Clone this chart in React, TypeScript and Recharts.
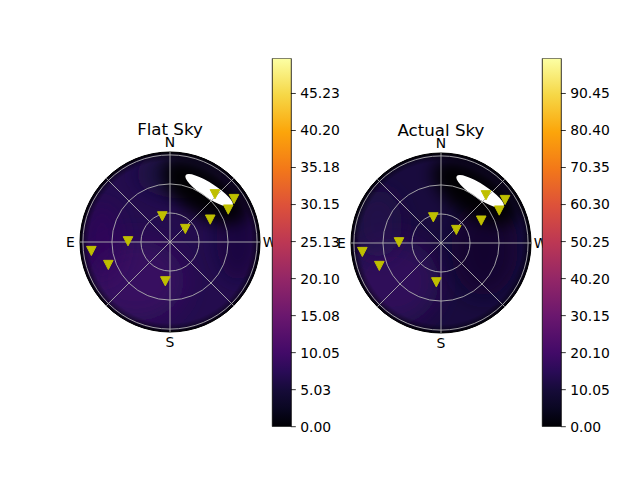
import React from 'react';
import {
  ScatterChart,
  Scatter,
  XAxis,
  YAxis,
  ReferenceArea,
  ReferenceLine,
  ReferenceDot,
  BarChart,
  Bar,
} from 'recharts';

// ---------- data ----------
const starAzimuths = [316.7, 303.9, 299.1, 299.1, 16.7, 310.4, 89.0, 96.5, 110.4, 173.2];
const starZeniths = [67.8, 79.7, 68.9, 47.6, 27.7, 20.8, 43.4, 81.8, 68.0, 40.9];

const ringZeniths = [30, 60, 90];
const spokeAngles = [0, 45, 90, 135];
const compassNames = ['N', 'E', 'S', 'W'];
const compassAzimuths = [0, 90, 180, 270];
const R_MAX = 93;

const flatTicks = [0, 5.025, 10.05, 15.075, 20.1, 25.125, 30.15, 35.175, 40.2, 45.225];
const flatTickLabels = ['0.00', '5.03', '10.05', '15.08', '20.10', '25.13', '30.15', '35.18', '40.20', '45.23'];
const flatMax = 50;

const actualTicks = [0, 10.05, 20.1, 30.15, 40.2, 50.25, 60.3, 70.35, 80.4, 90.45];
const actualTickLabels = ['0.00', '10.05', '20.10', '30.15', '40.20', '50.25', '60.30', '70.35', '80.40', '90.45'];
const actualMax = 100;

// ---------- styling of the sky brightness background ----------
type Blob = { x: number; y: number; rx: number; ry: number; rot: number; color: string; op: number; blur: number };

const flatBase = '#240c4e';
const flatBlobs: Blob[] = [
  { x: -35, y: -40, rx: 50, ry: 42, rot: 0, color: '#3c0964', op: 0.8, blur: 12 },
  { x: -70, y: 0, rx: 20, ry: 40, rot: 0, color: '#330a5e', op: 0.6, blur: 10 },
  { x: 10, y: 70, rx: 45, ry: 25, rot: 0, color: '#160b39', op: 0.6, blur: 10 },
  { x: 70, y: 5, rx: 22, ry: 45, rot: 0, color: '#140a35', op: 0.6, blur: 10 },
  { x: 35, y: 52, rx: 50, ry: 24, rot: 33, color: '#000004', op: 0.95, blur: 8 },
];
const flatWhite: Blob = { x: 40.5, y: 53.2, rx: 29, ry: 7.5, rot: 33, color: '#ffffff', op: 1, blur: 0 };

const actualBase = '#190b3e';
const actualBlobs: Blob[] = [
  { x: -50, y: -40, rx: 48, ry: 45, rot: 0, color: '#330a5e', op: 0.85, blur: 12 },
  { x: -65, y: 20, rx: 25, ry: 35, rot: 0, color: '#240c4f', op: 0.6, blur: 10 },
  { x: 45, y: -5, rx: 35, ry: 50, rot: 0, color: '#0c0828', op: 0.7, blur: 12 },
  { x: 35, y: 52, rx: 50, ry: 24, rot: 33, color: '#000004', op: 0.95, blur: 8 },
];
const actualWhite: Blob = { x: 40.5, y: 53.2, rx: 29, ry: 7.5, rot: 33, color: '#ffffff', op: 1, blur: 0 };

const infernoStops: [number, string][] = [
  [0.0, '#000004'],
  [0.05, '#0a0722'],
  [0.1, '#160b39'],
  [0.15, '#2a0b57'],
  [0.2, '#420a68'],
  [0.3, '#6a176e'],
  [0.4, '#932667'],
  [0.5, '#bc3754'],
  [0.6, '#dd513a'],
  [0.7, '#f37819'],
  [0.8, '#fca50a'],
  [0.9, '#f6d746'],
  [1.0, '#fcffa4'],
];

const FONT = 'DejaVu Sans, sans-serif';
const GRID = '#b0b0b0';
const MARKER = '#bfbf00';

const toRad = (d: number) => (d * Math.PI) / 180;
const starData = starAzimuths.map((az, i) => ({
  x: -starZeniths[i] * Math.sin(toRad(az)),
  y: starZeniths[i] * Math.cos(toRad(az)),
}));

const rectOf = (p: any) => {
  const x = Math.min(p.x, p.x + p.width);
  const y = Math.min(p.y, p.y + p.height);
  const w = Math.abs(p.width);
  const h = Math.abs(p.height);
  return { cx: x + w / 2, cy: y + h / 2, w, h };
};

const Triangle = (p: any) => {
  const { cx, cy } = p;
  if (cx == null || cy == null) return null;
  const hw = 4.8;
  const hh = 4.6;
  return (
    <path
      d={`M${cx - hw},${cy - hh}L${cx + hw},${cy - hh}L${cx},${cy + hh}Z`}
      fill={MARKER}
      stroke={MARKER}
      strokeWidth={1}
      strokeLinejoin="miter"
    />
  );
};

function SkyPlot({ id, title, base, blobs, white }: { id: string; title: string; base: string; blobs: Blob[]; white: Blob }) {
  const blurs = Array.from(new Set(blobs.map((b) => b.blur)));
  const discShape = (p: any) => {
    const { cx, cy, w } = rectOf(p);
    const r = w / 2;
    return (
      <g>
        <defs>
          <clipPath id={`clip-${id}`}>
            <circle cx={cx} cy={cy} r={r} />
          </clipPath>
          {blurs.map((b) => (
            <filter key={b} id={`blur-${id}-${b}`} x="-60%" y="-60%" width="220%" height="220%">
              <feGaussianBlur stdDeviation={b} />
            </filter>
          ))}
          <radialGradient id={`edge-${id}`} cx="50%" cy="50%" r="50%">
            <stop offset="0.9" stopColor="#000004" stopOpacity={0} />
            <stop offset="0.965" stopColor="#000004" stopOpacity={0.45} />
            <stop offset="1" stopColor="#000004" stopOpacity={1} />
          </radialGradient>
        </defs>
        <circle cx={cx} cy={cy} r={r} fill={base} />
      </g>
    );
  };
  const blobShape = (b: Blob) => (p: any) => {
    const { cx, cy, w, h } = rectOf(p);
    return (
      <g clipPath={`url(#clip-${id})`}>
        <ellipse
          cx={cx}
          cy={cy}
          rx={w / 2}
          ry={h / 2}
          transform={`rotate(${b.rot} ${cx} ${cy})`}
          fill={b.color}
          fillOpacity={b.op}
          filter={b.blur ? `url(#blur-${id}-${b.blur})` : undefined}
        />
      </g>
    );
  };
  const edgeShape = (p: any) => {
    const { cx, cy, w } = rectOf(p);
    return <circle cx={cx} cy={cy} r={w / 2} fill={`url(#edge-${id})`} />;
  };
  const ringShape = (p: any) => {
    const { cx, cy, w, h } = rectOf(p);
    return <ellipse cx={cx} cy={cy} rx={w / 2} ry={h / 2} fill="none" stroke={GRID} strokeWidth={0.9} />;
  };
  const frameShape = (p: any) => {
    const { cx, cy, w } = rectOf(p);
    return <circle cx={cx} cy={cy} r={w / 2} fill="none" stroke="#000" strokeWidth={1} />;
  };
  const labelShape = (az: number, text: string) => (p: any) => {
    const dx = -Math.sin(toRad(az));
    const dy = -Math.cos(toRad(az));
    return (
      <text
        x={p.cx + dx * 9.6}
        y={p.cy + dy * 9.6}
        dy="0.36em"
        textAnchor="middle"
        fontFamily={FONT}
        fontSize={13.9}
        fill="#000"
      >
        {text}
      </text>
    );
  };
  const titleShape = (p: any) => (
    <text x={p.cx} y={p.cy - 16.7} textAnchor="middle" fontFamily={FONT} fontSize={16.67} fill="#000">
      {title}
    </text>
  );

  const areaBox = (b: Blob) => ({ x1: b.x - b.rx, x2: b.x + b.rx, y1: b.y - b.ry, y2: b.y + b.ry });

  return (
    <ScatterChart width={300} height={260} margin={{ top: 52, left: 80, right: 40, bottom: 28 }}>
      <XAxis type="number" dataKey="x" domain={[-R_MAX, R_MAX]} allowDataOverflow hide />
      <YAxis type="number" dataKey="y" domain={[-R_MAX, R_MAX]} allowDataOverflow hide />
      <ReferenceArea x1={-R_MAX} x2={R_MAX} y1={-R_MAX} y2={R_MAX} ifOverflow="visible" shape={discShape} />
      {blobs.map((b, i) => (
        <ReferenceArea key={`b${i}`} {...areaBox(b)} ifOverflow="visible" shape={blobShape(b)} />
      ))}
      <ReferenceArea {...areaBox(white)} ifOverflow="visible" shape={blobShape(white)} />
      <ReferenceArea x1={-R_MAX} x2={R_MAX} y1={-R_MAX} y2={R_MAX} ifOverflow="visible" shape={edgeShape} />
      {ringZeniths.map((z) => (
        <ReferenceArea key={`r${z}`} x1={-z} x2={z} y1={-z} y2={z} ifOverflow="visible" shape={ringShape} />
      ))}
      {spokeAngles.map((a) => (
        <ReferenceLine
          key={`s${a}`}
          ifOverflow="visible"
          segment={[
            { x: -R_MAX * Math.sin(toRad(a)), y: R_MAX * Math.cos(toRad(a)) },
            { x: R_MAX * Math.sin(toRad(a)), y: -R_MAX * Math.cos(toRad(a)) },
          ]}
          stroke={GRID}
          strokeWidth={0.9}
        />
      ))}
      <ReferenceArea x1={-R_MAX} x2={R_MAX} y1={-R_MAX} y2={R_MAX} ifOverflow="visible" shape={frameShape} />
      {compassNames.map((n, i) => (
        <ReferenceDot
          key={n}
          x={-R_MAX * Math.sin(toRad(compassAzimuths[i]))}
          y={R_MAX * Math.cos(toRad(compassAzimuths[i]))}
          ifOverflow="visible"
          shape={labelShape(compassAzimuths[i], n)}
        />
      ))}
      <ReferenceDot x={0} y={R_MAX} ifOverflow="visible" shape={titleShape} />
      <Scatter data={starData} isAnimationActive={false} shape={Triangle} />
    </ScatterChart>
  );
}

function ColorBar({ id, max, ticks, labels }: { id: string; max: number; ticks: number[]; labels: string[] }) {
  const data = [{ name: 'cb', v: max }];
  return (
    <BarChart
      width={80}
      height={400}
      data={data}
      barCategoryGap={0}
      margin={{ top: 18.3, left: 12.3, right: 0, bottom: 13.3 }}
    >
      <defs>
        <linearGradient id={`cb-${id}`} x1="0" y1="1" x2="0" y2="0">
          {infernoStops.map(([o, c]) => (
            <stop key={o} offset={o} stopColor={c} />
          ))}
        </linearGradient>
      </defs>
      <XAxis dataKey="name" hide />
      <YAxis
        orientation="right"
        type="number"
        domain={[0, max]}
        allowDataOverflow
        ticks={ticks}
        interval={0}
        width={49.1}
        axisLine={false}
        tickSize={4.9}
        tickMargin={4.4}
        tickLine={{ stroke: '#000', strokeWidth: 0.8 }}
        tick={{ fontSize: 13.9, fill: '#000', fontFamily: FONT }}
        tickFormatter={(v: number) => labels[ticks.indexOf(v)] ?? String(v)}
      />
      <Bar dataKey="v" fill={`url(#cb-${id})`} stroke="#000" strokeWidth={0.8} isAnimationActive={false} />
    </BarChart>
  );
}

export default function App() {
  return (
    <div style={{ position: 'absolute', left: 0, top: 0, width: 640, height: 480, background: '#fff', overflow: 'hidden' }}>
      <div style={{ position: 'absolute', left: 0, top: 100 }}>
        <SkyPlot id="flat" title="Flat Sky" base={flatBase} blobs={flatBlobs} white={flatWhite} />
      </div>
      <div style={{ position: 'absolute', left: 270.7, top: 100.5 }}>
        <SkyPlot id="actual" title="Actual Sky" base={actualBase} blobs={actualBlobs} white={actualWhite} />
      </div>
      <div style={{ position: 'absolute', left: 260, top: 40 }}>
        <ColorBar id="flat" max={flatMax} ticks={flatTicks} labels={flatTickLabels} />
      </div>
      <div style={{ position: 'absolute', left: 530.2, top: 40 }}>
        <ColorBar id="actual" max={actualMax} ticks={actualTicks} labels={actualTickLabels} />
      </div>
    </div>
  );
}
